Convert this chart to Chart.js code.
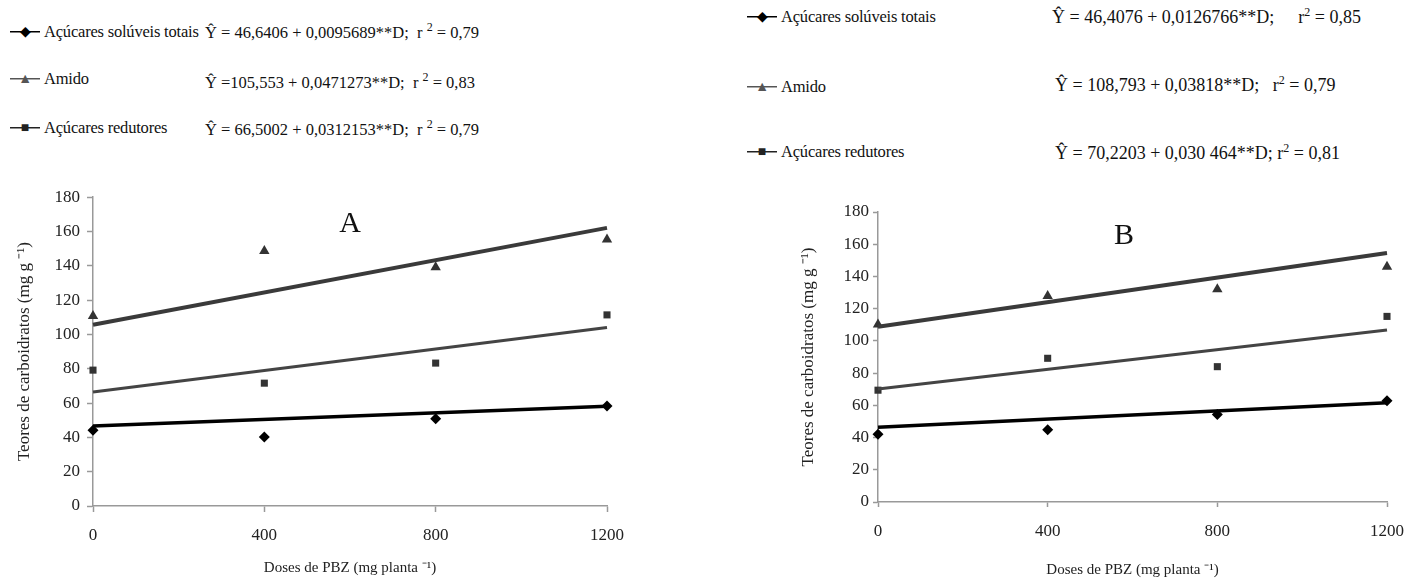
<!DOCTYPE html>
<html lang="pt">

<head>
    <meta charset="UTF-8">
    <title>Teores de carboidratos - Doses de PBZ</title>
    <script src="https://cdn.jsdelivr.net/npm/chart.js"></script>
    <style>
        body {
            margin: 0;
            width: 1418px;
            height: 579px;
            background: #fff;
            position: relative;
            overflow: hidden;
            font-family: "Liberation Serif", "Times New Roman", serif;
            color: #111;
        }

        .painel {
            position: absolute;
        }

        .leg,
        .eq {
            position: absolute;
            line-height: 20px;
            white-space: nowrap;
        }

        .leg {
            font-size: 16.5px;
            letter-spacing: -0.2px;
        }

        .eq {
            font-size: 16.5px;
        }

        .eqB {
            font-size: 18px;
        }

        .sym {
            display: inline-block;
            width: 30px;
            text-align: center;
            font-size: 14px;
            line-height: 20px;
            vertical-align: top;
            margin-right: 4px;
            background: linear-gradient(currentColor, currentColor) center / 100% 1.5px no-repeat;
        }

        .eq sup {
            font-size: 12px;
            vertical-align: 7px;
            line-height: 0;
        }

        .letra {
            position: absolute;
            font-size: 30px;
            line-height: 30px;
            transform: translate(-50%, -50%);
        }
    </style>
</head>

<body>
    <!-- legenda A -->
    <div class="leg" style="left:10px; top:22px"><span class="sym" style="color:#000">◆</span>Açúcares solúveis totais</div>
    <div class="leg" style="left:10px; top:69px"><span class="sym" style="color:#555">▲</span>Amido</div>
    <div class="leg" style="left:10px; top:118px"><span class="sym" style="color:#222">■</span>Açúcares redutores</div>
    <div class="eq" style="left:205px; top:23px">Ŷ = 46,6406 + 0,0095689**D;&nbsp; r <sup>2</sup> = 0,79</div>
    <div class="eq" style="left:205px; top:73px">Ŷ =105,553 + 0,0471273**D;&nbsp; r <sup>2</sup> = 0,83</div>
    <div class="eq" style="left:205px; top:120px">Ŷ = 66,5002 + 0,0312153**D;&nbsp; r <sup>2</sup> = 0,79</div>

    <!-- legenda B -->
    <div class="leg" style="left:747px; top:7px"><span class="sym" style="color:#000">◆</span>Açúcares solúveis totais</div>
    <div class="leg" style="left:747px; top:77px"><span class="sym" style="color:#555">▲</span>Amido</div>
    <div class="leg" style="left:747px; top:142px"><span class="sym" style="color:#222">■</span>Açúcares redutores</div>
    <div class="eq eqB" style="left:1052px; top:7px">Ŷ = 46,4076 + 0,0126766**D;<span style="margin-left:24px">r<sup>2</sup> = 0,85</span></div>
    <div class="eq eqB" style="left:1055px; top:75px">Ŷ = 108,793 + 0,03818**D;&nbsp;&nbsp; r<sup>2</sup> = 0,79</div>
    <div class="eq eqB" style="left:1055px; top:143px">Ŷ = 70,2203 + 0,030 464**D; r<sup>2</sup> = 0,81</div>

    <div class="painel" style="left:0; top:180px; width:700px; height:399px">
        <canvas id="graficoA" width="700" height="399"></canvas>
    </div>
    <div class="painel" style="left:700px; top:190px; width:718px; height:389px">
        <canvas id="graficoB" width="718" height="389"></canvas>
    </div>
    <div class="letra" style="left:350px; top:222px">A</div>
    <div class="letra" style="left:1124px; top:234px">B</div>

    <script>
        // doses de PBZ (mg planta-1)
        const doses = [0, 400, 800, 1200];
        const dosesReta = [0, 1200];
        const xTicks = [0, 400, 800, 1200];
        const yTicks = [0, 20, 40, 60, 80, 100, 120, 140, 160, 180];

        // painel A - valores observados
        const solA = [44.1, 40.2, 50.8, 58.3];
        const amiA = [110.8, 148.7, 139.2, 155.3];
        const redA = [79.2, 71.6, 83.3, 111.4];
        // painel A - retas ajustadas (extremos)
        const solRetaA = [46.6, 58.1];
        const amiRetaA = [105.6, 162.1];
        const redRetaA = [66.5, 104.0];

        // painel B - valores observados
        const solB = [42.1, 44.8, 54.3, 62.8];
        const amiB = [110.2, 127.8, 132.1, 146.0];
        const redB = [69.4, 89.2, 84.0, 115.2];
        // painel B - retas ajustadas
        const solRetaB = [46.4, 61.6];
        const amiRetaB = [108.8, 154.6];
        const redRetaB = [70.2, 106.8];

        const nomes = ['Açúcares solúveis totais', 'Amido', 'Açúcares redutores'];
        const fonte = "'Liberation Serif', 'Times New Roman', serif";

        function pontos(xs, ys) {
            return xs.map((x, i) => ({ x: x, y: ys[i] }));
        }

        function serie(nome, ys, estilo, cor, raio) {
            return {
                label: nome,
                data: pontos(doses, ys),
                showLine: false,
                clip: false,
                pointStyle: estilo,
                pointRadius: raio,
                backgroundColor: cor,
                borderColor: cor,
                borderWidth: 0
            };
        }

        function reta(nome, ys, cor, largura) {
            return {
                label: nome + ' (ajuste)',
                data: pontos(dosesReta, ys),
                showLine: true,
                clip: false,
                pointRadius: 0,
                borderColor: cor,
                borderWidth: largura,
                tension: 0
            };
        }

        function criarGrafico(id, sol, ami, red, solReta, amiReta, redReta, g) {
            const ctx = document.getElementById(id).getContext('2d');
            return new Chart(ctx, {
                type: 'scatter',
                data: {
                    datasets: [
                        reta(nomes[1], amiReta, '#3a3a3a', 4),
                        reta(nomes[2], redReta, '#444', 3),
                        reta(nomes[0], solReta, '#000', 3.5),
                        serie(nomes[1], ami, 'triangle', '#333', 6),
                        serie(nomes[2], red, 'rect', '#333', 5),
                        serie(nomes[0], sol, 'rectRot', '#000', 5.5)
                    ]
                },
                options: {
                    responsive: false,
                    animation: false,
                    layout: {
                        padding: { left: g.padLeft, top: g.padTop, right: g.padRight, bottom: 0 }
                    },
                    plugins: {
                        legend: { display: false },
                        tooltip: { enabled: false }
                    },
                    scales: {
                        x: {
                            type: 'linear',
                            min: 0,
                            max: 1200,
                            afterBuildTicks: (s) => { s.ticks = xTicks.map(v => ({ value: v })); },
                            afterFit: (s) => { s.height = g.xAltura; },
                            grid: { drawOnChartArea: false, tickLength: g.tick, tickColor: '#999', tickWidth: 1.5 },
                            border: { color: '#999', width: 1.5 },
                            ticks: {
                                padding: g.xPad,
                                color: '#222',
                                font: { family: fonte, size: 17 },
                                maxRotation: 0,
                                callback: (v) => String(v)
                            },
                            title: {
                                display: true,
                                text: 'Doses de PBZ (mg planta ⁻¹)',
                                color: '#222',
                                font: { family: fonte, size: 15 },
                                padding: { top: 0, bottom: g.xTitPad }
                            }
                        },
                        y: {
                            type: 'linear',
                            min: 0,
                            max: 180,
                            afterBuildTicks: (s) => { s.ticks = yTicks.map(v => ({ value: v })); },
                            afterFit: (s) => { s.width = g.yLargura; },
                            grid: { drawOnChartArea: false, tickLength: g.tick, tickColor: '#999', tickWidth: 1.5 },
                            border: { color: '#999', width: 1.5 },
                            ticks: {
                                padding: g.yPad,
                                color: '#222',
                                font: { family: fonte, size: 17 },
                                callback: (v) => String(v)
                            },
                            title: {
                                display: true,
                                text: 'Teores de carboidratos (mg g ⁻¹)',
                                color: '#222',
                                font: { family: fonte, size: 17 },
                                padding: { top: 0, bottom: 0 }
                            }
                        }
                    }
                }
            });
        }

        const graficoA = criarGrafico('graficoA', solA, amiA, redA, solRetaA, amiRetaA, redRetaA,
            { padLeft: 14, padTop: 12, padRight: 93, yLargura: 79, xAltura: 73, tick: 6, yPad: 7, xPad: 13, xTitPad: 2 });
        const graficoB = criarGrafico('graficoB', solB, amiB, redB, solRetaB, amiRetaB, redRetaB,
            { padLeft: 98, padTop: 22, padRight: 20, yLargura: 80, xAltura: 77, tick: 5, yPad: 4, xPad: 14, xTitPad: 0 });
    </script>
</body>

</html>
